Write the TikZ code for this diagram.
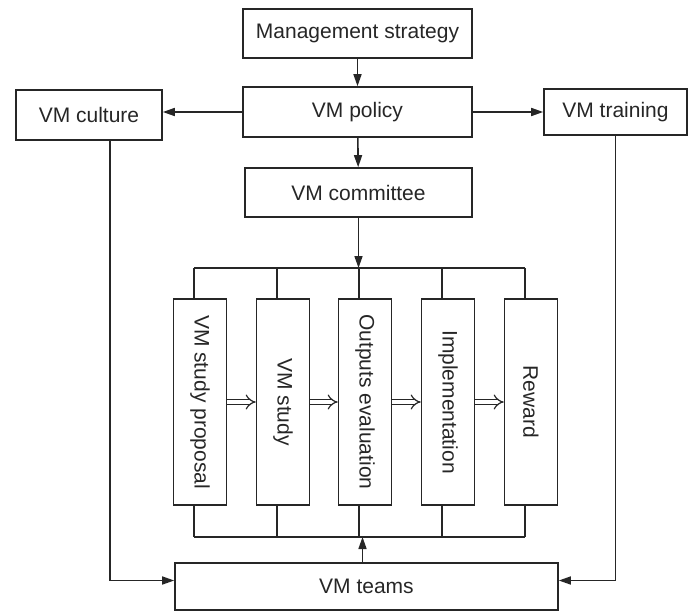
\documentclass[tikz,border=0pt]{standalone}
\usepackage{fontspec}
\setmainfont{Liberation Sans}
\usetikzlibrary{arrows.meta}

\begin{document}
\begin{tikzpicture}[x=1pt, y=-1pt, black!85, line width=1.6pt,
    box/.style={draw, inner sep=0pt, font=\fontsize{21}{24}\selectfont},
    vbox/.style={box, minimum width=53, minimum height=206},
    arr/.style={-{Triangle[length=12pt,width=8pt]}},
    dbl/.style={double, double distance=4pt, line width=1.2pt, -{Implies[scale=1.5]}}]
    \useasboundingbox (0,0) rectangle (697,613);
    \node[box, minimum width=229, minimum height=49] (strategy) at (357.5,33.5) {Management strategy};
    \node[box, minimum width=229, minimum height=50] (policy) at (357.5,112) {VM policy};
    \node[box, minimum width=146, minimum height=50] (culture) at (89,115) {VM culture};
    \node[box, minimum width=143, minimum height=46] (training) at (615.5,112) {VM training};
    \node[box, minimum width=227, minimum height=49] (committee) at (358.5,192.5) {VM committee};
    \node[box, minimum width=383, minimum height=47] (teams) at (366.5,586.5) {VM teams};
    \foreach \i/\x/\t in {1/200/VM study proposal,2/283/VM study,3/365/Outputs evaluation,4/448/Implementation,5/531/Reward}
        \node[vbox] (b\i) at (\x,402) {\rotatebox{-90}{\t}};
    % buses above and below the stages
    \coordinate (tbus) at (0,268);
    \coordinate (bbus) at (0,537);
    \foreach \i in {1,...,5} {
        \coordinate (t\i) at ([xshift=-6pt]b\i.north);
        \coordinate (d\i) at ([xshift=-6pt]b\i.south);
        \draw (t\i) -- (t\i |- tbus);
        \draw (d\i) -- (d\i |- bbus);
    }
    \draw (t1 |- tbus) -- (t5 |- tbus);
    \draw (d1 |- bbus) -- (d5 |- bbus);
    \foreach \i/\j in {1/2,2/3,3/4,4/5}
        \draw[dbl] (b\i.east) -- (b\j.west);
    % arrows
    \draw[arr] (strategy) -- (policy);
    \draw[arr] (policy) -- (committee);
    \draw[arr] (policy.west) -- (policy.west -| culture.east);
    \draw[arr] (policy.east) -- (policy.east -| training.west);
    \draw[arr] (committee.south) -- (committee.south |- tbus);
    \coordinate (tup) at ([xshift=-4pt]teams.north);
    \draw[arr] (tup) -- (tup |- bbus);
    \coordinate (cdown) at ([xshift=21pt]culture.south);
    \coordinate (lin) at ([yshift=6pt]teams.west);
    \coordinate (rin) at ([yshift=6pt]teams.east);
    \draw[arr] (cdown) |- (lin);
    \draw[arr] (training.south) |- (rin);
\end{tikzpicture}
\end{document}
